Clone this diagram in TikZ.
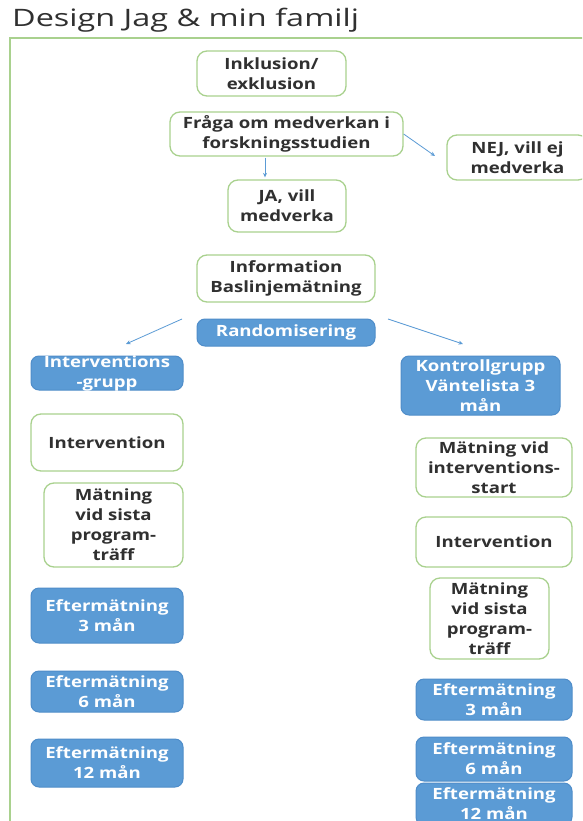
\documentclass[tikz,border=0pt]{standalone}
\usepackage{fontspec}
\setmainfont{Open Sans}[FakeStretch=1.2]
\newfontfamily\titlefont{Open Sans}[FakeStretch=1.35]
\usetikzlibrary{arrows.meta}
\definecolor{gborder}{HTML}{A9D18E}
\definecolor{bfill}{HTML}{5B9BD5}
\definecolor{bedge}{HTML}{4F8DC9}
\definecolor{tcol}{HTML}{303030}
\tikzset{
  boxtext/.style={font=\fontsize{15.5}{20}\selectfont\bfseries, align=center, inner sep=0pt},
  gbox/.style={boxtext, draw=gborder, line width=1.3pt, rounded corners=10pt, fill=white, text=tcol},
  bbox/.style={boxtext, draw=bedge, line width=1pt, rounded corners=8pt, fill=bfill, text=white},
  arr/.style={draw=bfill, line width=0.8pt, -{Stealth[length=4.5pt,width=4pt]}}
}
\begin{document}
\begin{tikzpicture}[x=1pt,y=-1pt]
\useasboundingbox (0,0) rectangle (582,821);
\clip (0,0) rectangle (582,821);
\fill[white] (0,0) rectangle (582,821);
% title and frame
\node[anchor=base west, inner sep=0pt, text=tcol, font=\titlefont\fontsize{24}{30}\selectfont] (title) at (12,27) {Design Jag \& min familj};
\draw[gborder, line width=1.3pt] (10,900) -- (10,38) -- (700,38);
% top chain
\node[gbox, minimum width=149pt, minimum height=45pt] (inkl) at (271.5,73.5) {Inklusion/\\exklusion};
\node[gbox, minimum width=233pt, minimum height=44pt] (fraga) at (286.5,134) {Fråga om medverkan i\\forskningsstudien};
\node[gbox, minimum width=141pt, minimum height=45pt] (nej) at (517.5,157.5) {NEJ, vill ej\\medverka};
\node[gbox, minimum width=118pt, minimum height=52pt] (ja) at (287,206) {JA, vill\\medverka};
\node[gbox, minimum width=178pt, minimum height=47pt] (info) at (286,278.5) {Information\\Baslinjemätning};
\node[bbox, minimum width=178pt, minimum height=27pt] (rand) at (286,332.5) {Randomisering};
% left column
\node[bbox, minimum width=152pt, minimum height=34pt, label={[boxtext, text=white]center:Interventions\\-grupp}] (ig) at (107,373) {};
\node[gbox, minimum width=152pt, minimum height=57pt] (intl) at (107,442.5) {Intervention};
\node[gbox, minimum width=139pt, minimum height=84pt] (matl) at (113.5,525) {Mätning\\vid sista\\program-\\träff};
\node[bbox, minimum width=152pt, minimum height=55pt] (e3l) at (107,615.5) {Eftermätning\\3 mån};
\node[bbox, minimum width=152pt, minimum height=41pt] (e6l) at (107,691.5) {Eftermätning\\6 mån};
\node[bbox, minimum width=152pt, minimum height=48pt] (e12l) at (107,763) {Eftermätning\\12 mån};
% right column
\node[bbox, minimum width=159pt, minimum height=59pt] (kg) at (480.5,385.5) {Kontrollgrupp\\Väntelista 3\\mån};
\node[gbox, minimum width=156pt, minimum height=59pt] (matis) at (494,467.5) {Mätning vid\\interventions-\\start};
\node[gbox, minimum width=156pt, minimum height=50pt] (intr) at (494,542) {Intervention};
\node[gbox, minimum width=119pt, minimum height=81pt] (matr) at (489.5,618.5) {Mätning\\vid sista\\program-\\träff};
\node[bbox, minimum width=156pt, minimum height=41pt] (e3r) at (494,699.5) {Eftermätning\\3 mån};
\node[bbox, minimum width=156pt, minimum height=44pt] (e6r) at (494,759) {Eftermätning\\6 mån};
\node[bbox, minimum width=156pt, minimum height=42pt] (e12r) at (494,804) {Eftermätning\\12 mån};
% connectors
\coordinate (nejtip) at (435,156);
\coordinate (jx) at (265,0);
\coordinate (rl1) at (182,319);
\coordinate (rl2) at (126,344);
\coordinate (rr1) at (388,319);
\coordinate (rr2) at (463,344);
\draw[arr] (fraga.east) -- (nejtip);
\draw[arr, shorten <=1pt, shorten >=2pt] (fraga.south -| jx) -- (ja.north -| jx);
\draw[arr] (rl1) -- (rl2);
\draw[arr] (rr1) -- (rr2);
\end{tikzpicture}
\end{document}
